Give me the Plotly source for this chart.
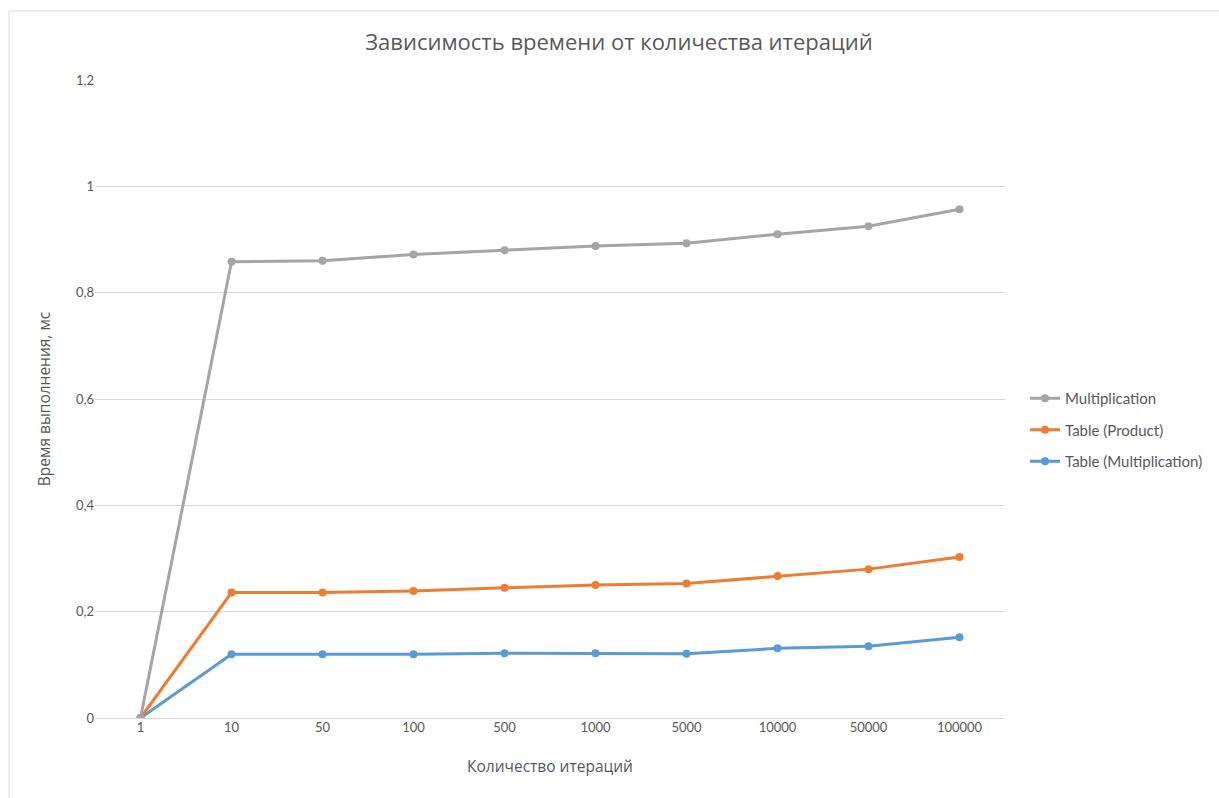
import plotly.graph_objects as go

# Iteration counts (category axis) and execution time in ms
iterations = ["1", "10", "50", "100", "500", "1000", "5000", "10000", "50000", "100000"]
multiplication = [0, 0.858, 0.860, 0.872, 0.880, 0.888, 0.893, 0.910, 0.925, 0.957]
table_product = [0, 0.236, 0.236, 0.239, 0.245, 0.250, 0.253, 0.267, 0.280, 0.303]
table_multiplication = [0, 0.120, 0.120, 0.120, 0.122, 0.122, 0.121, 0.131, 0.135, 0.152]

series = [
    ("Multiplication", multiplication, "#A5A5A5", 3),
    ("Table (Product)", table_product, "#ED7D31", 2),
    ("Table (Multiplication)", table_multiplication, "#5B9BD5", 1),
]

FONT = "Lato, sans-serif"
CYR = "'Open Sans', sans-serif"
TEXT = "#595959"

fig = go.Figure()
for name, values, color, z in series:
    fig.add_trace(go.Scatter(
        x=iterations, y=values, name=name, mode="lines+markers",
        line=dict(color=color, width=3),
        marker=dict(color=color, size=8),
        legendgroup=name, zorder=z,
    ))

fig.update_layout(
    width=1219, height=798,
    margin=dict(l=95, r=214, t=80, b=80, autoexpand=False),
    paper_bgcolor="white", plot_bgcolor="white",
    separators=", ",
    font=dict(family=FONT, size=13, color=TEXT),
    title=dict(
        text="Зависимость времени от количества итераций",
        x=619 / 1219, xref="container", xanchor="center",
        y=1 - 42 / 798, yanchor="middle",
        font=dict(family=CYR, size=22, color=TEXT),
    ),
    xaxis=dict(
        type="category", range=[-0.5, 9.5],
        showgrid=False, showline=False, zeroline=False, ticks="",
        tickfont=dict(size=13, color=TEXT),
        title=dict(text="Количество итераций", font=dict(family=CYR, size=15.5, color=TEXT), standoff=27),
    ),
    yaxis=dict(
        range=[0, 1.2], dtick=0.2, tick0=0,
        showgrid=True, gridcolor="#D9D9D9", gridwidth=1,
        zeroline=True, zerolinecolor="#D9D9D9", zerolinewidth=1,
        showline=False, ticks="", ticklen=0,
        tickfont=dict(size=13, color=TEXT),
        title=dict(text="Время выполнения, мс", font=dict(family=CYR, size=15.5, color=TEXT), standoff=21),
    ),
    showlegend=True,
    legend=dict(
        x=(1025 - 95) / 910, xanchor="left",
        y=(718 - 382) / 638, yanchor="top",
        traceorder="grouped", tracegroupgap=9,
        font=dict(size=15, color=TEXT),
        itemwidth=30, bgcolor="rgba(0,0,0,0)",
    ),
)

# Light chart-area frame
fig.add_shape(
    type="rect", xref="paper", yref="paper",
    x0=(9 - 95) / 910, x1=(1230 - 95) / 910,
    y0=(718 - 810) / 638, y1=(718 - 11) / 638,
    line=dict(color="#D9D9D9", width=1), fillcolor="rgba(0,0,0,0)", layer="below",
)

fig.write_html("out.html")
